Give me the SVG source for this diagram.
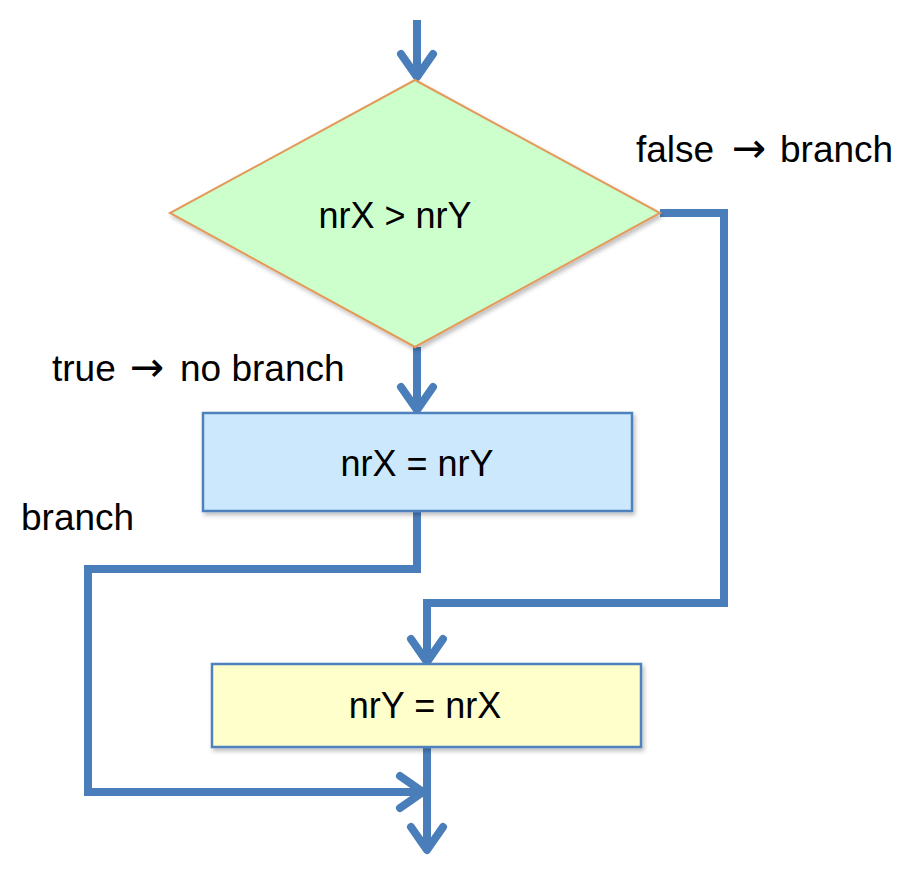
<svg xmlns="http://www.w3.org/2000/svg" width="912" height="872" viewBox="0 0 912 872">
<defs>
<marker id="ah" markerUnits="userSpaceOnUse" markerWidth="40" markerHeight="40" viewBox="-30 -20 40 40" refX="0" refY="0" orient="auto" overflow="visible">
<path d="M-23,-16 L0,0 L-23,16" fill="none" stroke="#4a7ebb" stroke-width="8" stroke-linecap="round" stroke-linejoin="round"/>
</marker>
<filter id="sh" x="-10%" y="-10%" width="120%" height="130%">
<feDropShadow dx="2" dy="3" stdDeviation="2" flood-color="#000" flood-opacity="0.25"/>
</filter>
</defs>
<style>
.t{font-family:"Liberation Sans",Arial,sans-serif;font-size:36px;fill:#000}
.l{font-size:37px}
.ar{font-family:"DejaVu Sans",sans-serif;font-size:41px}
.c{fill:none;stroke:#4a7ebb;stroke-width:8;stroke-linejoin:miter}
</style>
<rect width="912" height="872" fill="#fff"/>
<g id="connectors">
<path class="c" d="M417,20 V77" marker-end="url(#ah)"/>
<path class="c" d="M417,347 V410" marker-end="url(#ah)"/>
<path class="c" d="M660,213 H724 V603 H427 V662" marker-end="url(#ah)"/>
<path class="c" d="M417,512 V569 H88 V792 H423" marker-end="url(#ah)"/>
<path class="c" d="M427,748 V850" marker-end="url(#ah)"/>
</g>
<g id="decision">
<polygon points="415,80 660,213 415,347 170,213" fill="#ccffcc" stroke="#e39a5a" stroke-width="2" filter="url(#sh)"/>
<text class="t" x="395" y="228" text-anchor="middle">nrX &gt; nrY</text>
</g>
<g id="assignX">
<rect x="203" y="413" width="429" height="98" fill="#cce8fc" stroke="#4f81bd" stroke-width="2.5" filter="url(#sh)"/>
<text class="t" x="417" y="476" text-anchor="middle">nrX = nrY</text>
</g>
<g id="assignY">
<rect x="212" y="664" width="429" height="83" fill="#ffffcc" stroke="#4f81bd" stroke-width="2.5" filter="url(#sh)"/>
<text class="t" x="425" y="718" text-anchor="middle">nrY = nrX</text>
</g>
<g id="labels">
<text class="t l" y="162"><tspan x="636">false</tspan><tspan class="ar" x="732">→</tspan><tspan x="780">branch</tspan></text>
<text class="t l" y="381"><tspan x="52">true</tspan><tspan class="ar" x="130">→</tspan><tspan x="180">no branch</tspan></text>
<text class="t l" x="21" y="530">branch</text>
</g>
</svg>
